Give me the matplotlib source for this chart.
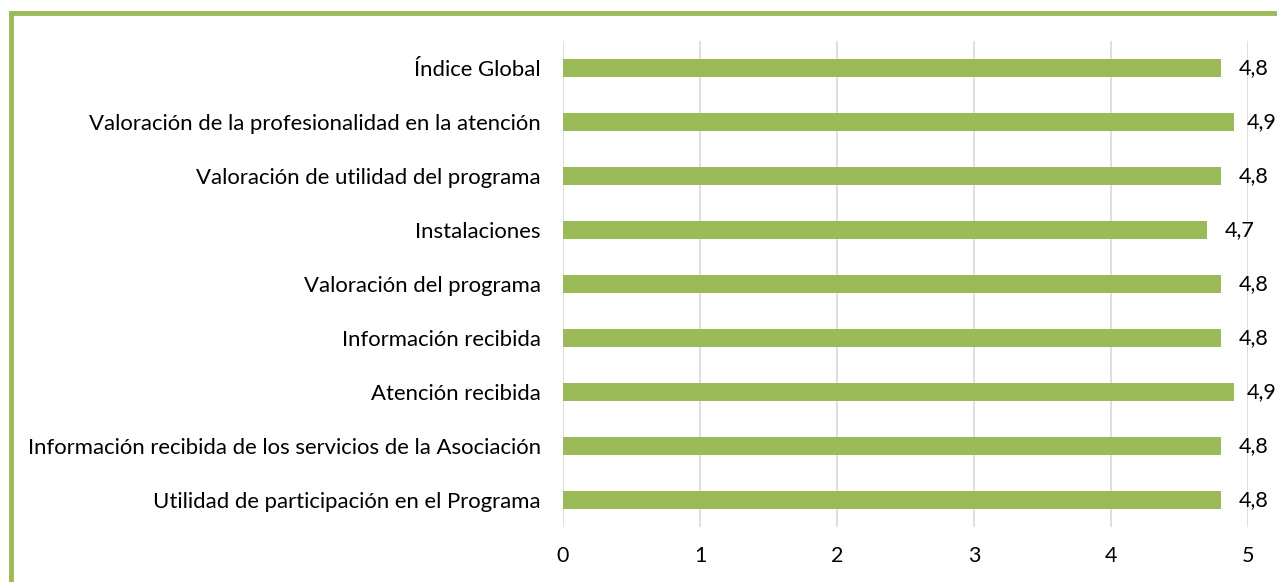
import matplotlib.pyplot as plt
from matplotlib.lines import Line2D

categorias = [
    "Índice Global",
    "Valoración de la profesionalidad en la atención",
    "Valoración de utilidad del programa",
    "Instalaciones",
    "Valoración del programa",
    "Información recibida",
    "Atención recibida",
    "Información recibida de los servicios de la Asociación",
    "Utilidad de participación en el Programa",
]
valores = [4.8, 4.9, 4.8, 4.7, 4.8, 4.8, 4.9, 4.8, 4.8]
ticks_x = [0, 1, 2, 3, 4, 5]

plt.rcParams['font.family'] = ['Lato', 'DejaVu Sans']

fig = plt.figure(figsize=(12.77, 5.82), dpi=100)
ax = fig.add_axes([0.4409, 0.0945, 0.5364, 0.8351])

y = list(range(len(categorias)))[::-1]
ax.barh(y, valores, height=0.33, color='#9BBB59', zorder=2)
for yi, v in zip(y, valores):
    # etiqueta a la derecha de la barra, sin salirse del cuadro
    ax.text(min(v + 0.133, 4.99), yi, f"{v:.1f}".replace('.', ','), va='center', ha='left',
            fontsize=15.5, color='#000000', clip_on=False)

ax.set_xlim(0, 5)
ax.set_ylim(-0.5, len(categorias) - 0.5)
ax.set_xticks(ticks_x)
ax.set_xticklabels([str(t) for t in ticks_x], fontsize=15.5)
ax.set_yticks(y)
ax.set_yticklabels(categorias, fontsize=15.9)
ax.tick_params(axis='both', length=0)
ax.tick_params(axis='y', pad=16)
ax.tick_params(axis='x', pad=14)
ax.grid(axis='x', color='#D9D9D9', linewidth=1.2, zorder=0)
for s in ax.spines.values():
    s.set_visible(False)

# marco verde
verde = '#9BBB59'
fig.add_artist(Line2D([11/1277, 1.0], [1 - 13/582, 1 - 13/582], transform=fig.transFigure, color=verde, linewidth=3.5))
fig.add_artist(Line2D([11/1277, 11/1277], [0.0, 1 - 13/582], transform=fig.transFigure, color=verde, linewidth=3.5))

fig.savefig('out.png', dpi=100)
